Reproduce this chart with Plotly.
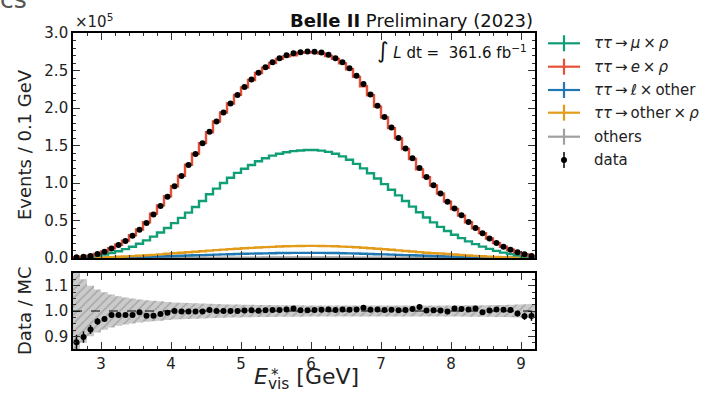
import numpy as np
import plotly.graph_objects as go

# ---------------- data (units of 1e5 events / 0.1 GeV) ----------------
bin_lo, bin_hi, bin_w = 2.6, 9.2, 0.1
n_bins = 66

data = [0.009, 0.016, 0.028, 0.052, 0.084, 0.127, 0.173, 0.228, 0.298, 0.378,
        0.467, 0.580, 0.693, 0.818, 0.956, 1.093, 1.240, 1.387, 1.529, 1.684,
        1.820, 1.940, 2.060, 2.175, 2.280, 2.380, 2.470, 2.545, 2.610, 2.665,
        2.705, 2.730, 2.745, 2.752, 2.750, 2.740, 2.710, 2.665, 2.610, 2.530,
        2.430, 2.320, 2.180, 2.030, 1.880, 1.740, 1.600, 1.460, 1.330, 1.200,
        1.080, 0.970, 0.860, 0.750, 0.660, 0.570, 0.480, 0.400, 0.330, 0.260,
        0.200, 0.150, 0.110, 0.076, 0.049, 0.027]

ratio = [0.877, 0.897, 0.927, 0.959, 0.968, 0.984, 0.984, 0.984, 0.984, 0.995,
         0.981, 0.981, 0.988, 0.993, 1.000, 0.998, 0.998, 0.998, 0.998, 1.004,
         1.000, 1.000, 1.000, 1.000, 1.002, 1.003, 1.001, 1.003, 1.004, 1.004,
         1.006, 1.010, 1.003, 1.003, 1.004, 1.005, 1.006, 1.004, 1.006, 1.005,
         1.006, 1.013, 1.005, 1.006, 1.004, 1.005, 1.003, 1.004, 1.008, 1.016,
         1.002, 1.003, 1.002, 0.998, 1.010, 1.008, 1.006, 1.010, 0.995, 1.002,
         1.006, 1.005, 1.004, 0.990, 0.979, 0.980]

mc_rel_unc = [0.160, 0.125, 0.100, 0.085, 0.074, 0.065, 0.058, 0.053, 0.049, 0.045,
              0.042, 0.040, 0.038, 0.036, 0.034, 0.033, 0.032, 0.031, 0.030, 0.029,
              0.028, 0.027, 0.026, 0.026, 0.025, 0.025, 0.024, 0.024, 0.024, 0.023,
              0.023, 0.023, 0.023, 0.022, 0.022, 0.022, 0.022, 0.022, 0.022, 0.022,
              0.022, 0.022, 0.022, 0.022, 0.022, 0.022, 0.022, 0.022, 0.022, 0.022,
              0.022, 0.022, 0.022, 0.022, 0.022, 0.022, 0.023, 0.023, 0.023, 0.023,
              0.024, 0.024, 0.025, 0.026, 0.027, 0.028]

# stacked levels (cumulative tops)
top_mu_rho = [0.005, 0.009, 0.016, 0.028, 0.045, 0.066, 0.090, 0.118, 0.150, 0.190,
              0.235, 0.285, 0.340, 0.400, 0.465, 0.535, 0.605, 0.680, 0.760, 0.850,
              0.925, 1.000, 1.070, 1.135, 1.190, 1.240, 1.290, 1.330, 1.365, 1.390,
              1.410, 1.425, 1.433, 1.440, 1.440, 1.432, 1.415, 1.390, 1.355, 1.310,
              1.255, 1.195, 1.130, 1.060, 0.985, 0.910, 0.835, 0.760, 0.685, 0.610,
              0.540, 0.475, 0.415, 0.360, 0.310, 0.265, 0.222, 0.185, 0.152, 0.122,
              0.095, 0.072, 0.052, 0.035, 0.021, 0.011]

top_other_rho = [0.001, 0.002, 0.004, 0.006, 0.009, 0.012, 0.016, 0.020, 0.025, 0.030,
                 0.036, 0.042, 0.049, 0.056, 0.063, 0.070, 0.077, 0.084, 0.091, 0.098,
                 0.105, 0.112, 0.118, 0.124, 0.130, 0.135, 0.140, 0.145, 0.149, 0.153,
                 0.156, 0.159, 0.161, 0.162, 0.162, 0.161, 0.159, 0.156, 0.152, 0.148,
                 0.143, 0.137, 0.131, 0.124, 0.117, 0.110, 0.102, 0.094, 0.086, 0.078,
                 0.070, 0.064, 0.060, 0.053, 0.046, 0.040, 0.034, 0.028, 0.023, 0.018,
                 0.014, 0.010, 0.007, 0.005, 0.003, 0.002]

top_l_other = [0.000, 0.001, 0.001, 0.002, 0.003, 0.004, 0.006, 0.008, 0.010, 0.012,
               0.015, 0.018, 0.021, 0.024, 0.027, 0.030, 0.033, 0.036, 0.039, 0.042,
               0.045, 0.048, 0.051, 0.054, 0.056, 0.058, 0.060, 0.062, 0.064, 0.066,
               0.067, 0.068, 0.069, 0.069, 0.069, 0.068, 0.067, 0.066, 0.064, 0.062,
               0.060, 0.057, 0.054, 0.051, 0.048, 0.045, 0.042, 0.039, 0.036, 0.033,
               0.030, 0.027, 0.024, 0.021, 0.018, 0.016, 0.014, 0.012, 0.010, 0.008,
               0.006, 0.005, 0.004, 0.003, 0.002, 0.001]

top_others = [0.000, 0.000, 0.000, 0.000, 0.000, 0.001, 0.001, 0.001, 0.001, 0.001,
              0.002, 0.002, 0.002, 0.002, 0.003, 0.003, 0.003, 0.003, 0.004, 0.004,
              0.004, 0.004, 0.005, 0.005, 0.005, 0.005, 0.005, 0.006, 0.006, 0.006,
              0.006, 0.006, 0.006, 0.006, 0.006, 0.006, 0.006, 0.006, 0.006, 0.006,
              0.005, 0.005, 0.005, 0.005, 0.004, 0.004, 0.004, 0.004, 0.003, 0.003,
              0.003, 0.003, 0.002, 0.002, 0.002, 0.002, 0.001, 0.001, 0.001, 0.001,
              0.001, 0.000, 0.000, 0.000, 0.000, 0.000]

TS = "\u2009"  # thin space
legend_labels = [f"<i>ττ</i>{TS}→{TS}<i>μ</i>{TS}×{TS}<i>ρ</i>",
                 f"<i>ττ</i>{TS}→{TS}<i>e</i>{TS}×{TS}<i>ρ</i>",
                 f"<i>ττ</i>{TS}→{TS}<i>ℓ</i>{TS}×{TS}other",
                 f"<i>ττ</i>{TS}→{TS}other{TS}×{TS}<i>ρ</i>",
                 "others",
                 "data"]
colors = {"mu_rho": "#0f9e76", "e_rho": "#e5503a", "l_other": "#1f77b4",
          "other_rho": "#e39b1a", "others": "#a0a0a0"}

x_ticks = [3, 4, 5, 6, 7, 8, 9]
y_ticks_top = [0.0, 0.5, 1.0, 1.5, 2.0, 2.5, 3.0]
y_ticks_ratio = [0.9, 1.0, 1.1]

# ---------------- derived ----------------
edges = np.round(bin_lo + bin_w * np.arange(n_bins + 1), 3)
centers = np.round(edges[:-1] + bin_w / 2, 3)
data = np.array(data)
ratio = np.array(ratio)
mc_total = data / ratio
data_err = np.sqrt(data * 1e5) / 1e5
ratio_err = data_err / mc_total
unc = np.array(mc_rel_unc)


def step(vals):
    v = list(vals)
    return list(edges), v + [v[-1]]


FONT = "DejaVu Sans"
fig = go.Figure()

for key, lvl in [("others", top_others), ("l_other", top_l_other),
                 ("other_rho", top_other_rho), ("mu_rho", top_mu_rho),
                 ("e_rho", mc_total)]:
    xs, ys = step(lvl)
    fig.add_trace(go.Scatter(x=xs, y=ys, mode="lines", line_shape="hv",
                             line=dict(color=colors[key], width=2.4),
                             xaxis="x", yaxis="y", showlegend=False, hoverinfo="skip"))

fig.add_trace(go.Scatter(x=centers, y=data, mode="markers",
                         marker=dict(color="black", size=6),
                         error_y=dict(type="data", array=data_err, color="black",
                                      thickness=1.5, width=0),
                         xaxis="x", yaxis="y", showlegend=False))

# ratio band
xs, lo = step(1 - unc)
_, hi = step(1 + unc)
fig.add_trace(go.Scatter(x=xs, y=lo, mode="lines", line_shape="hv",
                         line=dict(width=0), xaxis="x2", yaxis="y2",
                         showlegend=False, hoverinfo="skip"))
fig.add_trace(go.Scatter(x=xs, y=hi, mode="lines", line_shape="hv",
                         line=dict(width=0), fill="tonexty",
                         fillcolor="rgba(190,190,190,0.9)",
                         fillpattern=dict(shape="/", fgcolor="rgba(120,120,120,0.9)",
                                          bgcolor="rgba(200,200,200,0.95)",
                                          size=6, solidity=0.25),
                         xaxis="x2", yaxis="y2", showlegend=False, hoverinfo="skip"))

fig.add_trace(go.Scatter(x=centers, y=ratio, mode="markers",
                         marker=dict(color="black", size=6),
                         error_y=dict(type="data", array=ratio_err, color="black",
                                      thickness=1.5, width=0),
                         xaxis="x2", yaxis="y2", showlegend=False, cliponaxis=True))

# ---------------- layout ----------------
W, H = 704, 399
L, R, T, B = 73, 169, 33, 50
ph = H - T - B
pw = W - L - R
def px2x(px): return (px - L) / pw
def py2y(py): return (H - B - py) / ph

axis_common = dict(showline=True, linecolor="black", linewidth=1.6, mirror="allticks",
                   ticks="inside", ticklen=7, tickwidth=1.2, tickcolor="#333",
                   showgrid=False, zeroline=False,
                   tickfont=dict(family=FONT, size=15, color="#222"))

fig.update_layout(
    width=W, height=H, margin=dict(l=L, r=R, t=T, b=B),
    paper_bgcolor="white", plot_bgcolor="white",
    font=dict(family=FONT, color="#222"),
    xaxis=dict(**axis_common, domain=[0, 1], anchor="y", matches="x2",
               range=[bin_lo, bin_hi], tickvals=x_ticks, showticklabels=False,
               minor=dict(dtick=0.2, tick0=0, ticklen=3.5, ticks="inside", tickcolor="#333")),
    yaxis=dict(**axis_common, domain=[py2y(258), 1], anchor="x",
               range=[0, 3.0], tickvals=y_ticks_top, tickformat=".1f",
               minor=dict(dtick=0.1, tick0=0, ticklen=3.5, ticks="inside", tickcolor="#333")),
    xaxis2=dict(**axis_common, domain=[0, 1], anchor="y2",
                range=[bin_lo, bin_hi], tickvals=x_ticks,
                minor=dict(dtick=0.2, tick0=0, ticklen=3.5, ticks="inside", tickcolor="#333")),
    yaxis2=dict(**axis_common, domain=[0, py2y(273)], anchor="x2",
                range=[0.85, 1.15], tickvals=y_ticks_ratio, tickformat=".1f",
                minor=dict(dtick=0.025, tick0=0, ticklen=3.5, ticks="inside", tickcolor="#333")),
)

fig.add_shape(type="line", xref="x2 domain", yref="y2", x0=0, x1=1, y0=1.0, y1=1.0,
              line=dict(color="black", width=1, dash="dash"))

annotations = [
    dict(text="<b>Belle II</b> Preliminary (2023)", xref="paper", yref="paper",
         x=1.0, y=1.0, xanchor="right", yanchor="bottom", yshift=0, showarrow=False,
         font=dict(family=FONT, size=18, color="#111")),
    dict(text="<span style='font-size:22px'>∫</span> <i>L</i> dt =  361.6 fb<sup>−1</sup>",
         xref="paper", yref="paper", x=px2x(529), y=py2y(51), xanchor="right",
         yanchor="middle", showarrow=False, font=dict(family=FONT, size=15, color="#111")),
    dict(text="×10<sup>5</sup>", xref="paper", yref="paper", x=0.0, y=1.0,
         xanchor="left", yanchor="bottom", showarrow=False,
         font=dict(family=FONT, size=15, color="#222")),
    dict(text="cs", xref="paper", yref="paper", x=px2x(-2), y=py2y(16),
         xanchor="left", yanchor="bottom", showarrow=False,
         font=dict(family=FONT, size=25, color="#555")),
    # y titles
    dict(text="Events / 0.1 GeV", xref="paper", yref="paper", x=px2x(24), y=py2y(145),
         xanchor="center", yanchor="middle", textangle=-90, showarrow=False,
         font=dict(family=FONT, size=18, color="#222")),
    dict(text="Data / MC", xref="paper", yref="paper", x=px2x(24), y=py2y(311),
         xanchor="center", yanchor="middle", textangle=-90, showarrow=False,
         font=dict(family=FONT, size=18, color="#222")),
    # x title
    dict(text="<i>E</i><sub>vis</sub> [GeV]", xref="paper", yref="paper",
         x=px2x(252), y=py2y(362), xanchor="left", yanchor="top", showarrow=False,
         font=dict(family=FONT, size=22, color="#222")),
    dict(text="*", xref="paper", yref="paper", x=px2x(275), y=py2y(375),
         xanchor="center", yanchor="middle", showarrow=False,
         font=dict(family=FONT, size=15, color="#222")),
]

leg_y = [43.3, 66.7, 90.0, 112.7, 136.7, 160.0]
leg_cols = [colors["mu_rho"], colors["e_rho"], colors["l_other"],
            colors["other_rho"], colors["others"], "black"]
for i, (lab, col, py) in enumerate(zip(legend_labels, leg_cols, leg_y)):
    if i < 5:
        fig.add_shape(type="line", xref="paper", yref="paper",
                      x0=px2x(548), x1=px2x(580), y0=py2y(py), y1=py2y(py),
                      line=dict(color=col, width=2.2))
        fig.add_shape(type="line", xref="paper", yref="paper",
                      x0=px2x(564), x1=px2x(564), y0=py2y(py - 8), y1=py2y(py + 8),
                      line=dict(color=col, width=2.2))
    else:
        fig.add_shape(type="line", xref="paper", yref="paper",
                      x0=px2x(564), x1=px2x(564), y0=py2y(py - 8), y1=py2y(py + 8),
                      line=dict(color=col, width=1.5))
        fig.add_shape(type="circle", xref="paper", yref="paper",
                      x0=px2x(561), x1=px2x(567), y0=py2y(py - 3), y1=py2y(py + 3),
                      fillcolor="black", line=dict(color="black", width=0))
    annotations.append(dict(text=lab, xref="paper", yref="paper", x=px2x(592),
                            y=py2y(py), xanchor="left", yanchor="middle",
                            showarrow=False,
                            font=dict(family=FONT, size=15, color="#222")))

fig.update_layout(annotations=annotations)
fig.write_html("out.html")
